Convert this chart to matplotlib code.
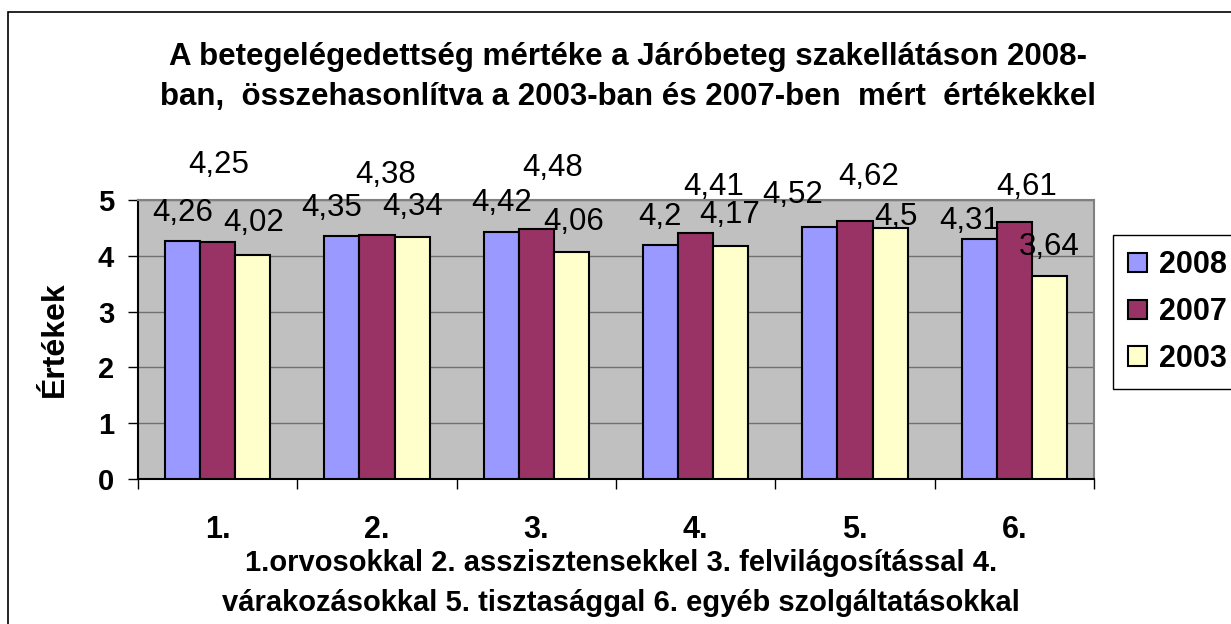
import matplotlib.pyplot as plt
import matplotlib.patches as mpatches
import numpy as np

plt.rcParams['font.family'] = ['Liberation Sans', 'DejaVu Sans']

categories = ['1.', '2.', '3.', '4.', '5.', '6.']
series_names = ['2008', '2007', '2003']
v2008 = [4.26, 4.35, 4.42, 4.2, 4.52, 4.31]
v2007 = [4.25, 4.38, 4.48, 4.41, 4.62, 4.61]
v2003 = [4.02, 4.34, 4.06, 4.17, 4.5, 3.64]
colors = ['#9999FF', '#993366', '#FFFFCC']

title = ('A betegelégedettség mértéke a Járóbeteg szakellátáson 2008-\n'
         'ban,  összehasonlítva a 2003-ban és 2007-ben  mért  értékekkel')
xlabel = ('1.orvosokkal 2. asszisztensekkel 3. felvilágosítással 4.\n'
          'várakozásokkal 5. tisztasággal 6. egyéb szolgáltatásokkal')

# label offsets (pixels) mimicking excel's hand-moved labels
offs = [
    [(0, 28), (-10, 28), (0, 29), (-1, 28), (-27, 32), (-10, 18)],
    [(1, 77), (9, 60), (16, 61), (18, 46), (14, 44), (12, 35)],
    [(1, 32), (1, 30), (2, 30), (-1, 31), (6, 11), (0, 29)],
]

W, H = 1231, 624
fig = plt.figure(figsize=(W / 100, H / 100), dpi=100)
ax = fig.add_axes([138 / W, (H - 479) / H, 956 / W, 279 / H])
ax.set_facecolor('#C0C0C0')

x = np.arange(len(categories))
bw = 0.22
for i, (vals, c) in enumerate(zip([v2008, v2007, v2003], colors)):
    bars = ax.bar(x + (i - 1) * bw, vals, bw, color=c, edgecolor='black',
                  linewidth=1.5, label=series_names[i], zorder=3)
    for b, v, o in zip(bars, vals, offs[i]):
        ax.annotate(('%g' % v).replace('.', ','),
                    (b.get_x() + b.get_width() / 2, v),
                    xytext=o, textcoords='offset pixels',
                    ha='center', va='center', fontsize=22.5, zorder=5,
                    annotation_clip=False)

ax.set_ylim(0, 5)
ax.set_xlim(-0.5, 5.5)
ax.set_yticks(range(6))
ax.yaxis.grid(True, color='#707070', linewidth=1)
ax.set_axisbelow(True)
ax.tick_params(axis='y', length=7.2, width=1, pad=10, labelsize=21)
for t in ax.get_yticklabels():
    t.set_fontweight('bold')

ax.set_xticks(x)
ax.set_xticklabels(categories, fontsize=22, fontweight='bold')
ax.set_xticks(np.arange(-0.5, 6, 1), minor=True)
ax.tick_params(axis='x', which='major', length=0, pad=26)
ax.tick_params(axis='x', which='minor', length=7.2, width=1)

for s in ['left', 'bottom']:
    ax.spines[s].set_color('black')
    ax.spines[s].set_linewidth(1.5)
for s in ['top', 'right']:
    ax.spines[s].set_color('#808080')
    ax.spines[s].set_linewidth(1.5)

fig.text(55 / W, 1 - 339 / H, 'Értékek', rotation=90, ha='center',
         va='center', fontsize=23, fontweight='bold')
fig.text(628 / W, 1 - 77 / H, title, ha='center', va='center',
         fontsize=22.5, fontweight='bold', linespacing=1.42)
fig.text(621 / W, 1 - 583 / H, xlabel, ha='center', va='center',
         fontsize=21, fontweight='bold', linespacing=1.55)

leg = fig.legend(loc='upper left', bbox_to_anchor=(1113 / W, 1 - 235 / H),
                 prop={'weight': 'bold', 'size': 22}, fancybox=False,
                 edgecolor='black', framealpha=1, borderpad=0.5,
                 handlelength=0.6, handleheight=0.6, handletextpad=0.4,
                 labelspacing=0.55, borderaxespad=0)
leg.get_frame().set_linewidth(1)

# outer chart border
fig.patches.append(mpatches.Rectangle((8 / W, -0.1), 1.2, 1.1 - 12 / H,
                                      transform=fig.transFigure, fill=False,
                                      edgecolor='black', linewidth=1.2))

fig.savefig('out.png', dpi=100)
